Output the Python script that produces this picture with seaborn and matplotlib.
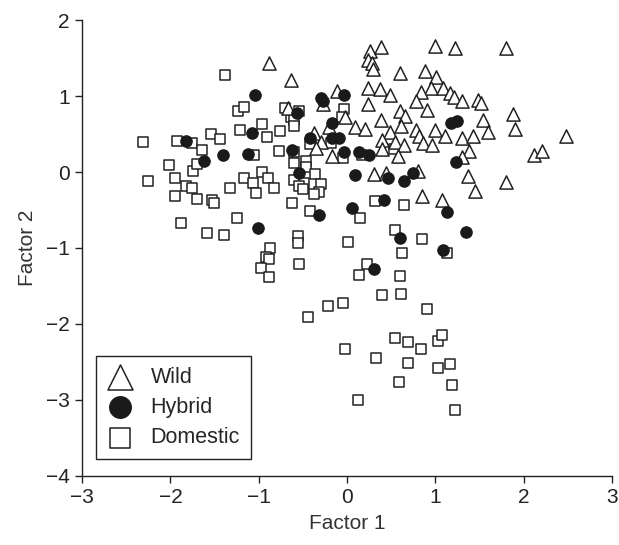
import matplotlib
matplotlib.use('Agg')
import matplotlib.pyplot as plt
import seaborn as sns

# Factor scores
wild_x = [-0.88, -0.63, 0.26, 0.38, 0.24, 0.28, 0.29, 0.99, 1.22, 1.80, 0.60, 0.88, 1.01, 0.95, 1.08,
          0.84, 1.17, 1.21, 1.30, 1.48, 1.51, 0.24, 0.37, 0.49, -0.11, 0.24, -0.27, 0.78, 0.90, 0.60,
          0.66, -0.02, 1.88, 1.54, 0.09, 0.20, -0.20, 0.38, 0.49, 0.61, 0.78, 0.81, 0.99, 1.11, 1.30,
          1.43, 1.59, 1.90, 2.48, -0.37, -0.29, -0.35, -0.67, -0.17, 0.39, 0.54, 0.64, 0.86, 0.96, 0.40,
          0.58, 1.38, 1.30, 2.12, 2.20, 0.31, 0.44, 0.80, 1.37, 1.45, 1.80, 0.85, 1.07]
wild_y = [1.44, 1.21, 1.60, 1.65, 1.48, 1.44, 1.36, 1.66, 1.63, 1.64, 1.30, 1.33, 1.25, 1.11, 1.11,
          1.06, 1.04, 0.99, 0.93, 0.95, 0.91, 1.11, 1.10, 1.02, 1.07, 0.89, 0.90, 0.93, 0.82, 0.81,
          0.74, 0.73, 0.77, 0.69, 0.59, 0.57, 0.59, 0.68, 0.53, 0.60, 0.56, 0.48, 0.56, 0.48, 0.45,
          0.47, 0.53, 0.57, 0.48, 0.52, 0.40, 0.31, 0.84, 0.21, 0.42, 0.39, 0.36, 0.38, 0.36, 0.30,
          0.21, 0.28, 0.20, 0.23, 0.28, -0.03, -0.01, 0.02, -0.05, -0.25, -0.13, -0.32, -0.37]

hybrid_x = [-1.82, -1.62, -1.41, -1.12, -1.08, -1.04, -1.01, -0.62, -0.57, -0.55, -0.42, -0.32,
            -0.29, -0.27, -0.17, -0.17, -0.09, -0.04, -0.04, 0.13, 0.25, 0.09, 0.05, 0.30, 0.42,
            0.46, 0.64, 0.75, 0.60, 1.09, 1.13, 1.34, 1.23, 1.18, 1.24]
hybrid_y = [0.41, 0.14, 0.22, 0.24, 0.51, 1.01, -0.74, 0.29, 0.78, -0.01, 0.45, -0.56,
            0.97, 0.93, 0.64, 0.45, 0.45, 1.01, 0.27, 0.27, 0.22, -0.04, -0.47, -1.28, -0.37,
            -0.08, -0.12, -0.01, -0.87, -1.03, -0.53, -0.79, 0.13, 0.64, 0.67]

domestic_x = [-2.31, -2.25, -2.02, -1.95, -1.95, -1.93, -1.88, -1.82, -1.76, -1.76, -1.74, -1.70,
              -1.70, -1.64, -1.58, -1.54, -1.53, -1.51, -1.44, -1.39, -1.38, -1.33, -1.25, -1.21,
              -1.23, -1.17, -1.17, -1.06, -1.03, -1.05, -0.96, -0.96, -0.91, -0.89, -0.83, -0.77,
              -0.76, -0.87, -0.92, -0.88, -0.98, -0.88, -0.70, -0.63, -0.60, -0.54, -0.60, -0.60,
              -0.60, -0.47, -0.47, -0.60, -0.49, -0.54, -0.50, -0.36, -0.30, -0.32, -0.38, -0.62,
              -0.42, -0.42, -0.18, -0.05, -0.03, -0.06, 0.17, 0.53, 0.32, 0.64, 0.15, 0.54, 0.85,
              -0.56, -0.56, 0.01, 0.62, 1.13, -0.54, 0.23, 0.13, 0.60, 0.40, 0.61, -0.05, -0.22,
              0.90, -0.44, 0.54, 0.69, 0.84, 1.03, 1.07, -0.02, 0.33, 0.69, 1.03, 1.16, 0.59, 1.19,
              0.12, 1.22]
domestic_y = [0.40, -0.12, 0.09, -0.08, -0.31, 0.41, -0.67, -0.18, -0.21, 0.38, 0.02, 0.10,
              -0.36, 0.29, -0.80, 0.50, -0.37, -0.41, 0.44, -0.83, 1.28, -0.21, -0.60, 0.56,
              0.81, 0.86, -0.08, -0.15, -0.28, 0.22, 0.63, 0.00, 0.46, -0.08, -0.21, 0.28,
              0.54, -1.00, -1.12, -1.15, -1.27, -1.38, 0.84, 0.72, 0.69, 0.80, 0.60, 0.27,
              0.12, 0.15, 0.07, -0.11, -0.14, -0.19, -0.22, -0.02, -0.16, -0.26, -0.29, -0.41,
              -0.51, 0.37, 0.38, 0.18, 0.83, 0.73, 0.23, 0.30, -0.38, -0.44, -0.60, -0.76, -0.88,
              -0.84, -0.94, -0.92, -1.07, -1.07, -1.21, -1.21, -1.35, -1.37, -1.62, -1.60, -1.72, -1.76,
              -1.80, -1.91, -2.18, -2.24, -2.33, -2.22, -2.14, -2.33, -2.45, -2.52, -2.58, -2.53, -2.76, -2.81,
              -3.00, -3.14]

sns.set_style('ticks')
plt.rcParams['font.family'] = ['Liberation Sans', 'DejaVu Sans']
plt.rcParams['axes.unicode_minus'] = True

fig = plt.figure(figsize=(6.19, 5.45), dpi=100)
ax = fig.add_axes([0.1325, 0.127, 0.8565, 0.836])

sns.scatterplot(x=domestic_x, y=domestic_y, marker='s', s=62, color='white',
                edgecolor='#222222', linewidth=1.1, label='Domestic', ax=ax, zorder=2)
sns.scatterplot(x=wild_x, y=wild_y, marker='^', s=90, color='white',
                edgecolor='#222222', linewidth=1.1, label='Wild', ax=ax, zorder=3)
sns.scatterplot(x=hybrid_x, y=hybrid_y, marker='o', s=68, color='#1a1a1a',
                edgecolor='#1a1a1a', linewidth=0.8, label='Hybrid', ax=ax, zorder=4)

ax.set_xlim(-3, 3)
ax.set_ylim(-4, 2)
ax.set_xticks([-3, -2, -1, 0, 1, 2, 3])
ax.set_yticks([-4, -3, -2, -1, 0, 1, 2])
ax.tick_params(direction='out', length=5, width=1, labelsize=15, colors='#222222', pad=4)
for s in ['left', 'bottom']:
    ax.spines[s].set_color('#222222')
    ax.spines[s].set_linewidth(1)
sns.despine(ax=ax)

ax.set_xlabel('Factor 1', fontsize=15, color='#333333', labelpad=5)
ax.set_ylabel('Factor 2', fontsize=15, color='#333333', labelpad=6)

handles, labels = ax.get_legend_handles_labels()
order = [labels.index(l) for l in ['Wild', 'Hybrid', 'Domestic']]
leg = ax.legend([handles[i] for i in order], [labels[i] for i in order],
                loc='lower left', bbox_to_anchor=(0.026, 0.037), borderaxespad=0,
                fontsize=15.5, markerscale=1.9, frameon=True, fancybox=False, framealpha=1,
                edgecolor='#222222', handletextpad=0.8, borderpad=0.5,
                labelspacing=0.42, handlelength=1.25)
leg.get_frame().set_linewidth(1)

fig.savefig('out.png', dpi=100)
